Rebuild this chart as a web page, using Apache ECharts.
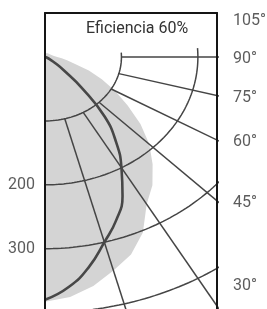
<!DOCTYPE html>
<html>
<head>
<meta charset="utf-8">
<script src="https://cdn.jsdelivr.net/npm/echarts@6/dist/echarts.min.js"></script>
<style>
  html, body { margin: 0; padding: 0; background: #fff; }
  #main { width: 267px; height: 309px; }
</style>
</head>
<body>
<div id="main"></div>
<script>
// curva fotometrica (cd/klm) por angulo gamma, 0 = hacia abajo
const angDark = [0, 5, 10, 15, 20, 25, 30, 35, 40, 45, 50, 55, 60, 70, 80, 90];
const valDark = [380, 361, 333, 300, 272, 240, 200, 162, 121, 68, 32, 16, 8, 3, 1, 0];
const angGris = [0, 5, 10, 15, 20, 25, 30, 35, 40, 45, 50, 55, 60, 65, 70, 75, 80, 85, 90, 100, 120, 150, 180];
const valGris = [383, 377, 364, 346, 329, 303, 266, 245, 219, 193, 163, 132, 106, 82, 61, 40, 30, 22, 16, 11, 8, 7, 6];

const anillos = [100, 200, 300, 400];
const anillosEtiqueta = [200, 300];
const rayos = [15, 30, 45, 60, 75, 90];
const angulosEtiqueta = [105, 90, 75, 60, 45, 30];
const titulo = 'Eficiencia 60%';

const X_MAX = 225, Y_MIN = -69, Y_MAX = 410;
const ARC_END = 94;
const RAY_START = 100, RAY_END = 600, LABEL_R = 410;

function polar(r, g) {
  const a = g * Math.PI / 180;
  return [r * Math.sin(a), r * Math.cos(a)];
}

const grisPts = angGris.map((g, i) => polar(valGris[i], g));
const darkPts = angDark.map((g, i) => polar(valDark[i], g));

const lineaGrid = { color: '#454545', width: 1.5 };
const series = [];

series.push({
  type: 'custom',
  data: grisPts,
  z: 1,
  silent: true,
  renderItem: function (params, api) {
    if (params.dataIndex !== 0) return null;
    return {
      type: 'polygon',
      shape: { points: grisPts.map(p => api.coord(p)) },
      style: { fill: '#d4d4d4' }
    };
  }
});

anillos.forEach(r => {
  const pts = [];
  for (let g = 0; g <= ARC_END; g++) pts.push(polar(r, g));
  series.push({
    type: 'line', data: pts, showSymbol: false, z: 2, silent: true,
    lineStyle: lineaGrid
  });
});

rayos.forEach(g => {
  series.push({
    type: 'line', data: [polar(RAY_START, g), polar(RAY_END, g)],
    showSymbol: false, z: 2, silent: true, lineStyle: lineaGrid
  });
});

series.push({
  type: 'line', data: darkPts, smooth: 0.5, showSymbol: false, z: 3, silent: true,
  lineStyle: { color: '#474747', width: 2.6 }
});

const txt = { color: '#333', fontSize: 16, fontFamily: 'Roboto' };

// etiquetas de angulo a la derecha del marco
const angData = angulosEtiqueta.map(g => {
  const a = g * Math.PI / 180;
  let r = X_MAX / Math.sin(a);
  if (r > LABEL_R) r = LABEL_R;
  return [X_MAX, r * Math.cos(a), g + '°'];
});
series.push({
  type: 'scatter', data: angData, symbolSize: 0, clip: false, silent: true, z: 5,
  label: Object.assign({ show: true, position: 'right', distance: 16, offset: [0, 2],
    formatter: p => p.value[2] }, txt)
});

// etiquetas de intensidad a la izquierda
series.push({
  type: 'scatter', data: anillosEtiqueta.map(r => [0, r, String(r)]),
  symbolSize: 0, clip: false, silent: true, z: 5,
  label: Object.assign({ show: true, position: 'left', distance: 10,
    formatter: p => p.value[2] }, txt)
});

const marco = { show: true, onZero: false, lineStyle: { color: '#151515', width: 2 } };

const chart = echarts.init(document.getElementById('main'));
chart.setOption({
  animation: false,
  backgroundColor: '#fff',
  title: {
    text: titulo, left: 86, top: 21, padding: 0,
    textStyle: Object.assign({ fontWeight: 'normal' }, txt)
  },
  grid: { left: 45, top: 13, right: 50, bottom: -10, outerBoundsMode: 'none' },
  xAxis: {
    type: 'value', min: 0, max: X_MAX, position: 'top', z: 10,
    axisLine: marco, axisTick: { show: false }, axisLabel: { show: false },
    splitLine: { show: false }
  },
  yAxis: [{
    type: 'value', min: Y_MIN, max: Y_MAX, inverse: true, position: 'left', z: 10,
    axisLine: marco, axisTick: { show: false }, axisLabel: { show: false },
    splitLine: { show: false }
  }, {
    type: 'value', min: Y_MIN, max: Y_MAX, inverse: true, position: 'right', z: 10,
    axisLine: marco, axisTick: { show: false }, axisLabel: { show: false },
    splitLine: { show: false }
  }],
  series: series
});
</script>
</body>
</html>
